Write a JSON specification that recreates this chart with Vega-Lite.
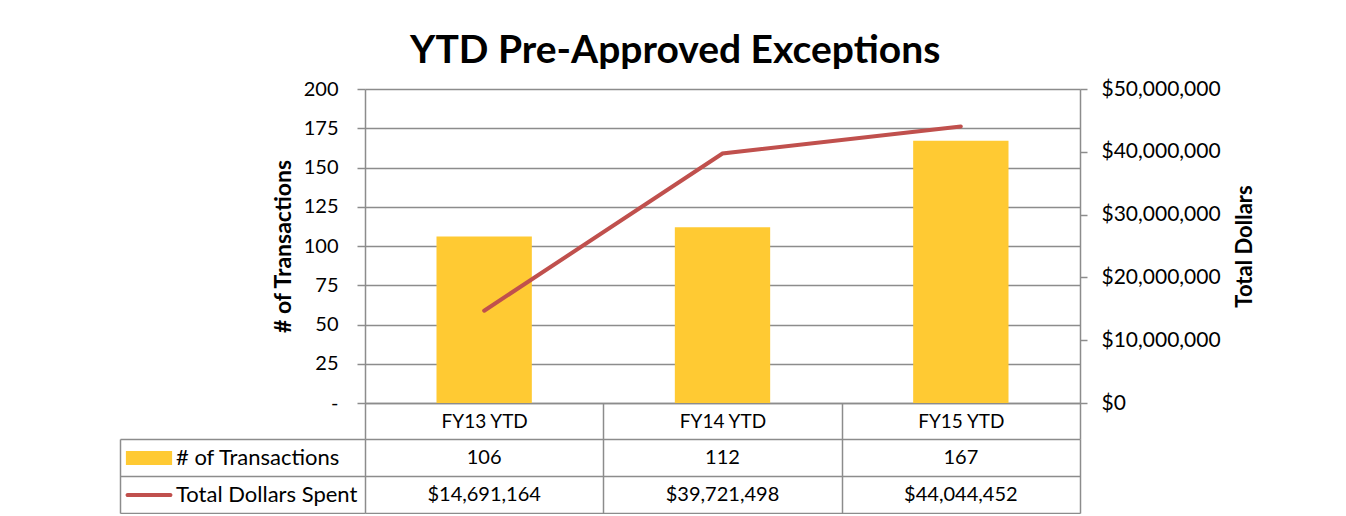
{
  "$schema": "https://vega.github.io/schema/vega-lite/v6.json",
  "background": "white",
  "padding": {"left": 119, "top": 32, "right": 0, "bottom": 0},
  "title": {
    "text": "YTD Pre-Approved Exceptions",
    "font": "Lato",
    "fontSize": 39,
    "fontWeight": "bold",
    "color": "black",
    "anchor": "middle",
    "dx": -12,
    "offset": 7
  },
  "config": {
    "font": "Lato",
    "view": {"stroke": null},
    "axis": {
      "labelFont": "Lato",
      "titleFont": "Lato",
      "labelColor": "black",
      "titleColor": "black",
      "domainColor": "#8C8C8C",
      "tickColor": "#8C8C8C",
      "gridColor": "#8C8C8C",
      "domainWidth": 1.5,
      "tickWidth": 1.5,
      "gridWidth": 1.5
    }
  },
  "data": {
    "values": [
      {"period": "FY13 YTD", "transactions": 106, "dollars": 14691164},
      {"period": "FY14 YTD", "transactions": 112, "dollars": 39721498},
      {"period": "FY15 YTD", "transactions": 167, "dollars": 44044452}
    ]
  },
  "bounds": "flush",
  "spacing": 36,
  "vconcat": [
    {
      "width": 715,
      "height": 314,
      "layer": [
        {
          "mark": {"type": "bar", "width": {"band": 0.4}},
          "encoding": {
            "x": {
              "field": "period",
              "type": "nominal",
              "sort": null,
              "scale": {"paddingInner": 0, "paddingOuter": 0},
              "axis": {
                "title": null,
                "orient": "bottom",
                "tickBand": "extent",
                "tickSize": 36,
                "labelAngle": 0,
                "labelFontSize": 19,
                "labelBaseline": "middle",
                "labelPadding": -18,
                "grid": false
              }
            },
            "y": {
              "field": "transactions",
              "type": "quantitative",
              "scale": {"domain": [0, 200], "nice": false},
              "axis": {
                "title": "# of Transactions",
                "titleFontSize": 23,
                "titleFontWeight": "bold",
                "titlePadding": 8,
                "values": [0, 25, 50, 75, 100, 125, 150, 175, 200],
                "labelExpr": "datum.value == 0 ? '-' : datum.label",
                "labelFontSize": 20,
                "labelPadding": 19,
                "tickSize": 8,
                "grid": true
              }
            },
            "color": {
              "datum": "# of Transactions",
              "type": "nominal",
              "scale": {
                "domain": ["# of Transactions", "Total Dollars Spent"],
                "range": ["#FFCA33", "#C0504D"]
              },
              "legend": {
                "title": null,
                "orient": "none",
                "legendX": -227,
                "legendY": 358,
                "padding": 0,
                "labelFontSize": 22,
                "labelFont": "Lato",
                "labelColor": "black",
                "labelLimit": 400,
                "labelOffset": 16,
                "rowPadding": 15,
                "symbolSize": 196,
                "symbolStrokeWidth": 0,
                "encode": {
                  "symbols": {
                    "update": {
                      "shape": {"signal": "datum.value === '# of Transactions' ? 'M-3.3,-1H3.3V1H-3.3Z' : 'M-3.05,-0.3H3.05A0.3,0.3 0 0 1 3.05,0.3H-3.05A0.3,0.3 0 0 1 -3.05,-0.3Z'"},
                      "fill": {"scale": "color", "field": "value"},
                      "stroke": {"value": "transparent"},
                      "opacity": {"value": 1}
                    }
                  }
                }
              }
            }
          }
        },
        {
          "mark": {"type": "line", "strokeWidth": 4, "strokeCap": "round"},
          "encoding": {
            "x": {"field": "period", "type": "nominal", "sort": null},
            "y": {
              "field": "dollars",
              "type": "quantitative",
              "scale": {"domain": [0, 50000000], "nice": false},
              "axis": {
                "orient": "right",
                "title": "Total Dollars",
                "titleFontSize": 22,
                "titleFontWeight": "bold",
                "titleAngle": 270,
                "titleBaseline": "top",
                "titlePadding": 14,
                "values": [0, 10000000, 20000000, 30000000, 40000000, 50000000],
                "format": "$,.0f",
                "labelFontSize": 21,
                "labelPadding": 14,
                "tickSize": 7,
                "grid": false
              }
            },
            "color": {"datum": "Total Dollars Spent", "type": "nominal"}
          }
        }
      ],
      "resolve": {"scale": {"y": "independent"}}
    },
    {
      "width": 715,
      "height": 74,
      "layer": [
        {
          "mark": {"type": "text", "fontSize": 20, "color": "black", "font": "Lato"},
          "encoding": {
            "x": {
              "field": "period",
              "type": "nominal",
              "sort": null,
              "scale": {"paddingInner": 0, "paddingOuter": 0},
              "axis": {
                "orient": "top",
                "title": null,
                "labels": false,
                "ticks": false,
                "domain": false,
                "grid": true,
                "tickBand": "extent"
              }
            },
            "y": {
              "datum": "# of Transactions",
              "type": "nominal",
              "scale": {"domain": ["# of Transactions", "Total Dollars Spent"], "paddingInner": 0, "paddingOuter": 0},
              "axis": {
                "orient": "left",
                "title": null,
                "labels": false,
                "domain": false,
                "tickBand": "extent",
                "tickSize": 245,
                "grid": true
              }
            },
            "text": {"field": "transactions", "type": "quantitative"}
          }
        },
        {
          "mark": {"type": "text", "fontSize": 20, "color": "black", "font": "Lato"},
          "encoding": {
            "x": {"field": "period", "type": "nominal", "sort": null},
            "y": {
              "datum": "Total Dollars Spent",
              "type": "nominal",
              "scale": {"domain": ["# of Transactions", "Total Dollars Spent"], "paddingInner": 0, "paddingOuter": 0},
              "axis": {
                "orient": "left",
                "offset": 245,
                "title": null,
                "labels": false,
                "ticks": false,
                "grid": false,
                "domain": true
              }
            },
            "text": {"field": "dollars", "type": "quantitative", "format": "$,.0f"}
          }
        }
      ],
      "resolve": {"scale": {"y": "independent"}}
    }
  ]
}
